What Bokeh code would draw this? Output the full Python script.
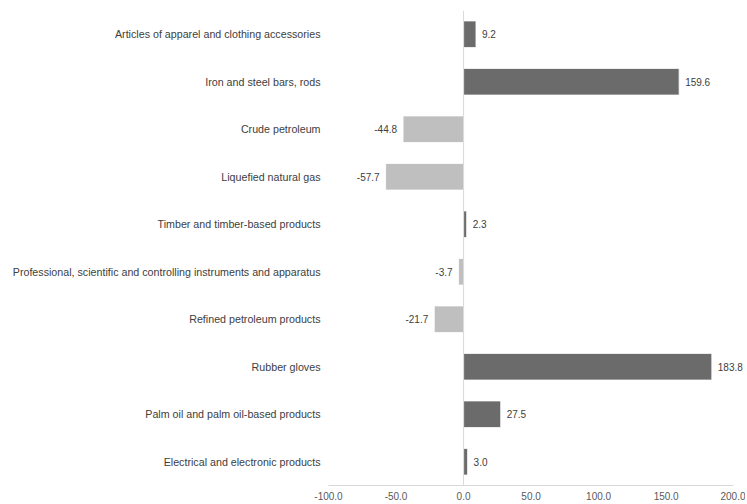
from bokeh.plotting import figure
from bokeh.models import ColumnDataSource, Span, FixedTicker, NumeralTickFormatter, LabelSet
from bokeh.embed import file_html
from bokeh.resources import INLINE
from bokeh.core.properties import value

categories = [
    "Articles of apparel and clothing accessories",
    "Iron and steel bars, rods",
    "Crude petroleum",
    "Liquefied natural gas",
    "Timber and timber-based products",
    "Professional, scientific and controlling instruments and apparatus",
    "Refined petroleum products",
    "Rubber gloves",
    "Palm oil and palm oil-based products",
    "Electrical and electronic products",
]
values = [9.2, 159.6, -44.8, -57.7, 2.3, -3.7, -21.7, 183.8, 27.5, 3.0]
x_ticks = [-100, -50, 0, 50, 100, 150, 200]

POS = "#6b6b6b"
NEG = "#bfbfbf"
FONT = "Liberation Sans"

pos_idx = [i for i, v in enumerate(values) if v >= 0]
neg_idx = [i for i, v in enumerate(values) if v < 0]

src_pos = ColumnDataSource(dict(
    y=[categories[i] for i in pos_idx],
    v=[values[i] for i in pos_idx],
    t=["%.1f" % values[i] for i in pos_idx],
))
src_neg = ColumnDataSource(dict(
    y=[categories[i] for i in neg_idx],
    v=[values[i] for i in neg_idx],
    t=["%.1f" % values[i] for i in neg_idx],
))

p = figure(
    width=745, height=502,
    y_range=list(reversed(categories)),
    x_range=(-100, 208),
    output_backend="svg", toolbar_location=None,
    min_border_left=328, min_border_right=1, min_border_top=10, min_border_bottom=17,
)
p.outline_line_color = None
p.xgrid.grid_line_color = None
p.ygrid.grid_line_color = None

p.add_layout(Span(location=0, dimension="height", line_color="#d9d9d9", line_width=1))

for src, col in ((src_pos, POS), (src_neg, NEG)):
    p.hbar(y="y", left=0, right="v", height=0.56, source=src,
           fill_color=col, line_color="white", line_width=0.8)

p.add_layout(LabelSet(x="v", y="y", text="t", source=src_pos, x_offset=6,
                      text_align="left", text_baseline="middle",
                      text_font=value(FONT), text_font_size="10px", text_color="#404040"))
p.add_layout(LabelSet(x="v", y="y", text="t", source=src_neg, x_offset=-6,
                      text_align="right", text_baseline="middle",
                      text_font=value(FONT), text_font_size="10px", text_color="#404040"))

# y axis
ya = p.yaxis[0]
ya.axis_line_color = None
ya.major_tick_line_color = None
ya.minor_tick_line_color = None
ya.major_tick_out = 0
ya.major_label_standoff = 8
ya.major_label_text_font = FONT
ya.major_label_text_font_size = "10.7px"
ya.major_label_text_color = "#404040"

# x axis
xa = p.xaxis[0]
xa.ticker = FixedTicker(ticks=x_ticks)
xa.formatter = NumeralTickFormatter(format="0.0")
xa.bounds = (-100, 200)
xa.axis_line_color = "#d9d9d9"
xa.major_tick_line_color = None
xa.minor_tick_line_color = None
xa.major_tick_out = 0
xa.major_label_standoff = 6
xa.major_label_text_font = FONT
xa.major_label_text_font_size = "10px"
xa.major_label_text_color = "#595959"

open("out.html", "w").write(file_html(p, INLINE))
